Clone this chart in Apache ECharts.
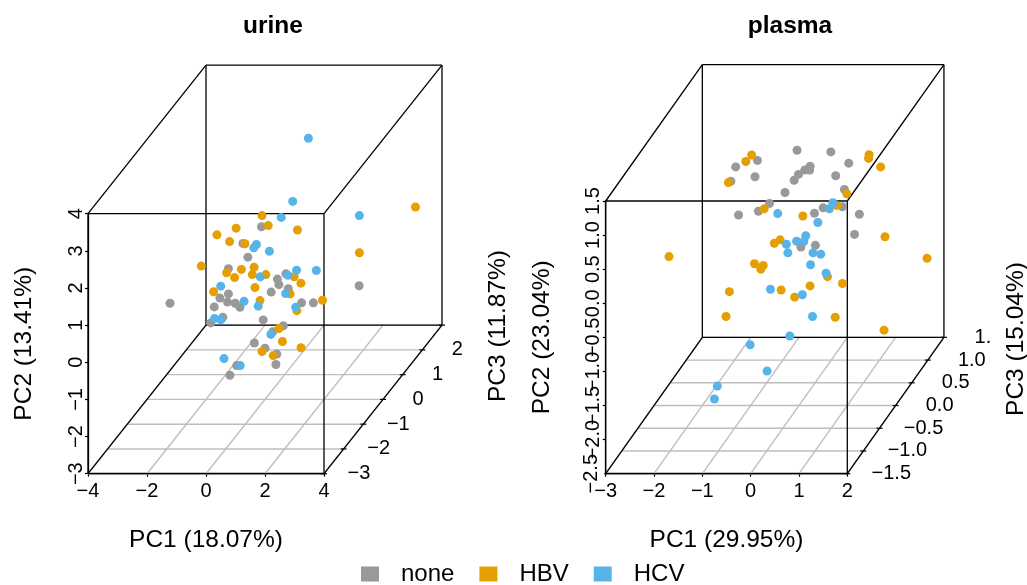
<!DOCTYPE html>
<html>
<head>
<meta charset="utf-8">
<script src="https://cdn.jsdelivr.net/npm/echarts@6/dist/echarts.min.js"></script>
<style>html,body{margin:0;padding:0;background:#fff}#c{width:1027px;height:585px}</style>
</head>
<body>
<div id="c"></div>
<script>
// Points as they appear on the projected plane, in PC1 / PC2 front-face axis units
const urineNone = [[1.88,3.65],[1.25,3.20],[1.42,2.83],[0.76,2.52],[2.71,2.38],[2.42,2.24],[2.47,2.09],[2.79,1.98],[2.21,1.89],[0.76,1.84],[0.47,1.73],[5.19,2.06],[-1.22,1.59],[0.73,1.62],[0.99,1.59],[3.24,1.60],[3.64,1.60],[0.28,1.49],[1.15,1.48],[0.57,1.21],[0.16,1.06],[1.94,1.14],[2.62,0.98],[2.26,0.82],[1.64,0.52],[2.00,0.38],[2.40,0.22],[2.37,-0.06],[1.04,-0.09],[0.81,-0.35]];
const urineHBV = [[7.10,4.18],[1.90,3.95],[1.02,3.61],[2.11,3.68],[3.10,3.56],[0.37,3.43],[0.80,3.25],[1.32,3.19],[5.20,2.95],[-0.16,2.59],[1.63,2.56],[1.20,2.50],[0.70,2.41],[1.57,2.36],[2.03,2.36],[0.97,2.28],[2.99,2.30],[3.22,2.13],[1.66,2.01],[0.26,1.90],[2.85,1.84],[1.83,1.66],[3.95,1.67],[3.08,1.39],[2.47,0.91],[2.59,0.56],[3.22,0.39],[1.90,0.29],[2.28,0.18]];
const urineHCV = [[3.47,6.03],[2.94,4.33],[5.20,3.95],[2.55,3.90],[1.71,3.17],[1.62,3.08],[2.15,2.99],[3.07,2.48],[3.74,2.47],[2.78,2.34],[1.84,2.30],[0.50,2.05],[2.70,1.85],[1.29,1.64],[1.77,1.51],[3.04,1.48],[0.29,1.18],[0.50,1.14],[2.20,0.75],[0.61,0.10],[1.16,-0.09]];
const plasmaNone = [[0.96,2.245],[1.66,2.22],[0.14,2.095],[-0.31,2.00],[2.03,2.055],[1.23,2.01],[1.12,1.955],[1.22,1.955],[0.99,1.89],[0.90,1.805],[1.76,1.87],[0.09,1.855],[-0.41,1.79],[1.94,1.67],[0.71,1.625],[0.39,1.465],[0.16,1.35],[-0.25,1.295],[1.32,1.32],[1.50,1.40],[1.90,1.415],[2.25,1.305],[2.15,1.01],[1.04,0.825],[1.34,0.85]];
const plasmaHBV = [[0.02,2.175],[-0.10,2.08],[2.45,2.18],[2.44,2.125],[2.69,2.00],[-0.46,1.77],[1.99,1.605],[0.28,1.385],[1.78,1.435],[1.08,1.28],[0.61,0.93],[0.49,0.88],[2.78,0.975],[-1.69,0.685],[3.65,0.66],[0.08,0.58],[0.26,0.555],[0.21,0.50],[1.59,0.39],[1.90,0.29],[1.23,0.255],[0.63,0.195],[-0.44,0.17],[0.91,0.09],[-0.51,-0.195],[1.75,-0.205],[2.76,-0.395]];
const plasmaHCV = [[1.70,1.475],[1.63,1.385],[0.56,1.315],[1.39,1.185],[1.14,0.99],[0.95,0.91],[1.10,0.905],[0.74,0.865],[0.77,0.74],[1.29,0.74],[1.45,0.72],[1.24,0.565],[1.56,0.44],[0.41,0.205],[1.07,0.125],[1.28,-0.195],[0.81,-0.48],[-0.01,-0.61],[0.34,-0.995],[-0.69,-1.215],[-0.75,-1.405]];

const urinePC1Ticks = [-4,-2,0,2,4];
const urinePC3Ticks = [-3,-2,-1,0,1,2,3];
const urinePC3Labels = ['−3','−2','−1','0','1','2',''];
const plasmaPC1Ticks = [-3,-2,-1,0,1,2];
const plasmaPC3Ticks = [-1.5,-1,-0.5,0,0.5,1,1.5];
const plasmaPC3Labels = ['−1.5','−1.0','−0.5','0.0','0.5','1.0','1.'];

const groupNames = ['none','HBV','HCV'];
const groupColors = ['#999999','#E69F00','#56B4E9'];
const FONT = '"Liberation Sans", Arial, sans-serif';
const DEPTH = 2/3; // oblique projection: axis units moved per PC3 unit

const panels = [
  {title:'urine', titleX:273, xName:'PC1 (18.07%)', yName:'PC2 (13.41%)', zName:'PC3 (11.87%)', zNameX:498, zNameY:326,
   left:88, top:213.7, width:236, height:260, xMin:-4, xMax:4, xInt:2, yMin:-3, yMax:4, yInt:1, yDec:0,
   pc1:urinePC1Ticks, pc3:urinePC3Ticks, pc3Labels:urinePC3Labels, labelOffset:35, lastOffset:35, separateMinLabel:false,
   sets:[urineNone,urineHBV,urineHCV]},
  {title:'plasma', titleX:790, xName:'PC1 (29.95%)', yName:'PC2 (23.04%)', zName:'PC3 (15.04%)', zNameX:1016, zNameY:339,
   left:605.7, top:201, width:241.6, height:272.7, xMin:-3, xMax:2, xInt:1, yMin:-2.5, yMax:1.5, yInt:0.5, yDec:1,
   pc1:plasmaPC1Ticks, pc3:plasmaPC3Ticks, pc3Labels:plasmaPC3Labels, labelOffset:44, lastOffset:39, separateMinLabel:true,
   sets:[plasmaNone,plasmaHBV,plasmaHCV]}
];

const minus = s => String(s).replace('-', '−');
const series = [], grids = [], xAxes = [], yAxes = [], titles = [], graphics = [];

function segmentSeries(i, rows, color, width, z){
  return {type:'custom', xAxisIndex:i, yAxisIndex:i, data:rows, silent:true, z:z, clip:false,
    encode:{x:[0,2], y:[1,3]},
    renderItem:(params, api) => {
      const a = api.coord([api.value(0), api.value(1)]);
      const b = api.coord([api.value(2), api.value(3)]);
      return {type:'line', shape:{x1:a[0], y1:a[1], x2:b[0], y2:b[1]}, style:{stroke:color, lineWidth:width, fill:null}};
    }};
}

panels.forEach((p, i) => {
  const z0 = p.pc3[0], z1 = p.pc3[p.pc3.length-1];
  const proj = (x, y, z) => [x + (z - z0) * DEPTH, y + (z - z0) * DEPTH];
  const seg = (a, b) => a.concat(b);
  const yFmt = v => minus(v.toFixed(p.yDec));
  grids.push({left:p.left, top:p.top, width:p.width, height:p.height, containLabel:false});
  titles.push({text:p.title, left:p.titleX - 5, top:9, textAlign:'center',
    textStyle:{fontFamily:FONT, fontSize:24.5, fontWeight:'bold', color:'#000'}});
  const axisCommon = {
    gridIndex:i, nameLocation:'middle', silent:true,
    nameTextStyle:{fontFamily:FONT, fontSize:24.5, color:'#000'},
    axisLine:{show:true, onZero:false, lineStyle:{color:'#000', width:1.3}},
    axisTick:{show:true, length:3, lineStyle:{color:'#000', width:1.2}},
    splitLine:{show:false}
  };
  xAxes.push(Object.assign({}, axisCommon, {type:'value', name:p.xName, nameGap:54, min:p.xMin, max:p.xMax, interval:p.xInt,
    axisLabel:{show:true, hideOverlap:false, showMinLabel:true, showMaxLabel:true, margin:8, fontFamily:FONT, fontSize:20, color:'#000', formatter:v=>minus(v)}}));
  yAxes.push(Object.assign({}, axisCommon, {type:'value', name:p.yName, nameGap:51, min:p.yMin, max:p.yMax, interval:p.yInt,
    axisLabel:{show:true, hideOverlap:false, showMinLabel:!p.separateMinLabel, showMaxLabel:true, rotate:90, margin:2, fontFamily:FONT, fontSize:20, color:'#000', formatter:yFmt}}));

  // floor grid
  const floor = [];
  p.pc1.forEach(x => floor.push(seg(proj(x,p.yMin,z0), proj(x,p.yMin,z1))));
  p.pc3.forEach(z => floor.push(seg(proj(p.xMin,p.yMin,z), proj(p.xMax,p.yMin,z))));
  series.push(segmentSeries(i, floor, '#bebebe', 1.4, 1));

  // box
  const corners = [[p.xMin,p.yMin],[p.xMax,p.yMin],[p.xMax,p.yMax],[p.xMin,p.yMax]];
  const box = [];
  corners.forEach((c, k) => {
    const n = corners[(k+1)%4];
    box.push(seg(proj(c[0],c[1],z0), proj(c[0],c[1],z1)));
    box.push(seg(proj(c[0],c[1],z0), proj(n[0],n[1],z0)));
    box.push(seg(proj(c[0],c[1],z1), proj(n[0],n[1],z1)));
  });
  series.push(segmentSeries(i, box, '#000', 1.3, 2));

  // PC3 axis ticks and labels
  series.push({type:'scatter', xAxisIndex:i, yAxisIndex:i, clip:false, silent:true, symbol:'rect', symbolSize:[6,1.2], z:3,
    itemStyle:{color:'#000', opacity:1},
    data:p.pc3.map((z,k) => ({value:proj(p.xMax,p.yMin,z), name:p.pc3Labels[k],
      label:{offset:[k === p.pc3.length-1 ? p.lastOffset : p.labelOffset, 0]}})),
    label:{show:true, position:'inside', formatter:d=>d.name, fontFamily:FONT, fontSize:20, color:'#000'}});

  // the lowest PC2 label overlaps its neighbour, as in the reference; the axis would drop one of them
  if (p.separateMinLabel) {
    series.push({type:'scatter', xAxisIndex:i, yAxisIndex:i, clip:false, silent:true, symbol:'rect', symbolSize:[3,1.2], z:3,
      itemStyle:{color:'#000', opacity:1},
      data:[{value:[p.xMin, p.yMin], name:yFmt(p.yMin)}],
      label:{show:true, position:'inside', rotate:90, offset:[0,-14], formatter:d=>d.name, fontFamily:FONT, fontSize:20, color:'#000'}});
  }

  // points
  groupNames.forEach((g,k) => {
    series.push({type:'scatter', name:g, xAxisIndex:i, yAxisIndex:i, clip:false, data:p.sets[k], symbol:'circle', symbolSize:9,
      itemStyle:{color:groupColors[k], opacity:1}, z:5});
  });

  graphics.push({type:'text', x:p.zNameX, y:p.zNameY, rotation:Math.PI/2,
    style:{text:p.zName, fontFamily:FONT, fontSize:24.5, fill:'#000', align:'center', verticalAlign:'middle'}});
});

const chart = echarts.init(document.getElementById('c'), null, {renderer:'canvas'});
chart.setOption({
  animation:false,
  backgroundColor:'#fff',
  title:titles, grid:grids, xAxis:xAxes, yAxis:yAxes, series:series, graphic:graphics,
  legend:{data:groupNames, icon:'rect', left:356, top:557, itemWidth:18, itemHeight:15, itemGap:25, selectedMode:false,
    textStyle:{fontFamily:FONT, fontSize:24, color:'#000', padding:[0,0,0,17]}}
});
</script>
</body>
</html>
